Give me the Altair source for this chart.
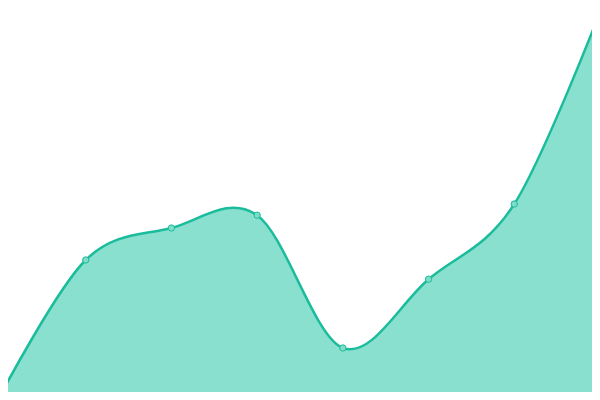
import altair as alt
import pandas as pd

xs = [0, 1, 2, 3, 4, 5, 6, 7]
vals = [1, 35, 43, 46.2, 13, 30.2, 49, 97]

df = pd.DataFrame({"x": xs, "v": vals})

base = alt.Chart(df).encode(
    x=alt.X("x:Q", axis=None, scale=alt.Scale(domain=[0, 7], nice=False, zero=False)),
    y=alt.Y("v:Q", axis=None, scale=alt.Scale(domain=[0, 100], nice=False)),
)

area = base.mark_area(
    interpolate="cardinal",
    color="#8ae0cf",
    opacity=1,
    line={"color": "#1abc9c", "strokeWidth": 2.5},
)
pts = base.mark_point(
    filled=True, size=40, fill="#7fdcc9", stroke="#1abc9c", strokeWidth=1, opacity=1
)

chart = (area + pts).properties(
    width=600, height=400,
    padding={"left": -8, "top": -8, "right": -8, "bottom": -8},
    autosize=alt.AutoSizeParams(type="none"),
).configure_view(stroke=None)

chart.save("out.html", embed_options={"renderer": "svg", "actions": False})
